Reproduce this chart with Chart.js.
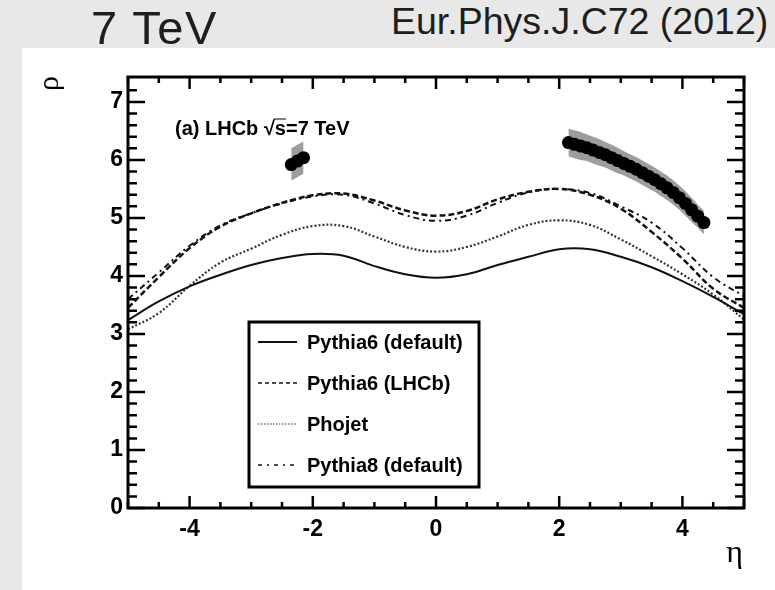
<!DOCTYPE html>
<html>
<head>
<meta charset="utf-8">
<script src="https://cdn.jsdelivr.net/npm/chart.js@4"></script>
<style>
  body { margin: 0; background: #e8e8e8; width: 775px; height: 590px; overflow: hidden; position: relative;
         font-family: 'Liberation Sans', Arial, sans-serif; }
  .head { position: absolute; color: #1e1e1e; line-height: 1; white-space: nowrap; z-index: 2; }
  #energy { left: 91px; top: 4px; font-size: 47px; letter-spacing: 1.5px; }
  #ref { left: 391px; top: 3px; font-size: 37.5px; }
  #panel { position: absolute; left: 22px; top: 48px; width: 753px; height: 542px; background: #fff; }
</style>
</head>
<body>
<div class="head" id="energy">7 TeV</div>
<div class="head" id="ref">Eur.Phys.J.C72 (2012)</div>
<div id="panel"><canvas id="rhoChart" width="753" height="542"></canvas></div>
<script>
// eta grid for the generator predictions
const etaGrid = [-5, -4.5, -4, -3.5, -3, -2.5, -2, -1.5, -1, -0.5, 0, 0.5, 1, 1.5, 2, 2.5, 3, 3.5, 4, 4.5, 5];

const pythia6Default = [3.24, 3.56, 3.82, 4.02, 4.19, 4.31, 4.38, 4.35, 4.17, 4.03, 3.97, 4.03, 4.19, 4.33, 4.46, 4.46, 4.33, 4.15, 3.91, 3.64, 3.34];
const pythia6LHCb   = [3.45, 3.98, 4.48, 4.85, 5.08, 5.26, 5.39, 5.42, 5.30, 5.13, 5.04, 5.12, 5.32, 5.45, 5.50, 5.40, 5.16, 4.76, 4.30, 3.78, 3.45];
const phojet        = [3.08, 3.36, 3.83, 4.23, 4.47, 4.71, 4.86, 4.86, 4.68, 4.50, 4.42, 4.50, 4.68, 4.88, 4.96, 4.88, 4.63, 4.34, 4.03, 3.68, 3.25];
const pythia8Default = [3.60, 4.06, 4.52, 4.87, 5.08, 5.25, 5.37, 5.40, 5.25, 5.05, 4.95, 5.04, 5.26, 5.44, 5.50, 5.43, 5.20, 4.92, 4.48, 3.98, 3.65];

// LHCb measurement, backward and forward acceptance
const etaBackward = [-2.35, -2.25, -2.15];
const rhoBackward = [5.92, 5.98, 6.04];
const errBackward = [0.28, 0.28, 0.28];

const etaForward = [2.15, 2.25, 2.35, 2.45, 2.55, 2.65, 2.75, 2.85, 2.95, 3.05, 3.15, 3.25,
                    3.35, 3.45, 3.55, 3.65, 3.75, 3.85, 3.95, 4.05, 4.15, 4.25, 4.35];
const rhoForward = [6.30, 6.27, 6.24, 6.21, 6.17, 6.13, 6.09, 6.04, 5.99, 5.94, 5.89, 5.84,
                    5.78, 5.72, 5.66, 5.59, 5.52, 5.44, 5.35, 5.25, 5.14, 5.03, 4.92];
const errForward = [0.24, 0.24, 0.24, 0.23, 0.23, 0.23, 0.22, 0.22, 0.22, 0.21, 0.21, 0.21,
                    0.21, 0.21, 0.21, 0.21, 0.21, 0.21, 0.21, 0.21, 0.21, 0.20, 0.20];

const xTicks = [-4, -2, 0, 2, 4];
const yTicks = [0, 1, 2, 3, 4, 5, 6, 7];

const FONT = "'Liberation Sans', Arial, sans-serif";
const SERIF = "'Liberation Serif', 'DejaVu Serif', serif";

const pts = (xs, ys) => xs.map((x, i) => ({ x: x, y: ys[i] }));
const shifted = (xs, ys, es, sign) => xs.map((x, i) => ({ x: x, y: ys[i] + sign * es[i] }));

function curve(label, values, dash, width, color) {
    return {
        label: label,
        data: pts(etaGrid, values),
        borderColor: color,
        borderWidth: width,
        borderDash: dash,
        pointRadius: 0,
        fill: false,
        tension: 0.4,
        order: 1,
        isModel: true
    };
}

function band(xs, ys, es, sign) {
    return {
        data: shifted(xs, ys, es, sign),
        borderWidth: 0,
        pointRadius: 0,
        backgroundColor: '#9d9d9d',
        fill: sign < 0 ? '-1' : false,
        order: 2
    };
}

// frame with inward ticks on all four sides, ROOT style
const frame = {
    id: 'frame',
    afterDatasetsDraw(chart) {
        const { ctx, chartArea: a, scales: { x, y } } = chart;
        ctx.save();
        ctx.strokeStyle = '#000';
        ctx.lineWidth = 2.5;
        ctx.beginPath();
        for (let v = -5; v <= 5.001; v += 0.5) {
            const px = x.getPixelForValue(v);
            const len = Math.abs(v % 2) < 1e-6 ? 12 : 6;
            ctx.moveTo(px, a.bottom); ctx.lineTo(px, a.bottom - len);
            ctx.moveTo(px, a.top); ctx.lineTo(px, a.top + len);
        }
        for (let v = 0; v <= 7.4; v += 0.2) {
            const py = y.getPixelForValue(v);
            const len = Math.abs(v - Math.round(v)) < 1e-6 ? 17 : 9;
            ctx.moveTo(a.left, py); ctx.lineTo(a.left + len, py);
            ctx.moveTo(a.right, py); ctx.lineTo(a.right - len, py);
        }
        ctx.stroke();
        ctx.lineWidth = 3;
        ctx.strokeRect(a.left, a.top, a.right - a.left, a.bottom - a.top);

        // experiment label
        ctx.fillStyle = '#000';
        ctx.font = 'bold 20px ' + FONT;
        ctx.textBaseline = 'alphabetic';
        const tx = a.left + 47, ty = a.top + 58;
        const pre = '(a) LHCb \u221A';
        ctx.fillText(pre + 's=7 TeV', tx, ty);
        const sx = tx + ctx.measureText(pre).width;
        const sw = ctx.measureText('s').width;
        ctx.lineWidth = 1;
        ctx.beginPath();
        ctx.moveTo(sx - 1, ty - 16); ctx.lineTo(sx + sw, ty - 16);
        ctx.stroke();

        // axis symbols
        ctx.font = '30px ' + SERIF;
        ctx.save();
        ctx.translate(36, a.top + 14);
        ctx.rotate(-Math.PI / 2);
        ctx.textAlign = 'left';
        ctx.fillText('\u03C1', 0, 0);
        ctx.restore();
        ctx.font = '32px ' + SERIF;
        ctx.textAlign = 'right';
        ctx.fillText('\u03B7', a.right - 1, a.bottom + 54);
        ctx.restore();
    }
};

// boxed legend inside the plot area
const boxLegend = {
    id: 'boxLegend',
    afterDraw(chart) {
        const { ctx, chartArea: a } = chart;
        const left = a.left + 121, top = a.top + 245, w = 230, h = 165;
        ctx.save();
        ctx.fillStyle = '#fff';
        ctx.fillRect(left, top, w, h);
        ctx.strokeStyle = '#000';
        ctx.lineWidth = 3;
        ctx.strokeRect(left, top, w, h);
        const rows = [265, 306, 347, 388];
        const samples = [[], [4, 3], [1.5, 1.5], [4, 5, 2, 5]];
        const models = chart.data.datasets.filter(d => d.isModel);
        models.forEach((d, i) => {
            const yy = a.top + rows[i];
            ctx.beginPath();
            ctx.setLineDash(samples[i]);
            ctx.lineWidth = i === 0 ? 2 : 1.5;
            ctx.strokeStyle = i === 2 ? '#777' : '#111';
            ctx.moveTo(a.left + 130, yy);
            ctx.lineTo(a.left + 169, yy);
            ctx.stroke();
            ctx.setLineDash([]);
            ctx.fillStyle = '#000';
            ctx.font = 'bold 20px ' + FONT;
            ctx.textBaseline = 'middle';
            ctx.fillText(d.label, a.left + 179, yy + 1);
        });
        ctx.restore();
    }
};

const ctx = document.getElementById('rhoChart');

const data = {
    datasets: [
        {
            label: 'LHCb',
            data: pts(etaBackward, rhoBackward).concat(pts(etaForward, rhoForward)),
            showLine: false,
            pointRadius: 6.5,
            pointBackgroundColor: '#000',
            pointBorderWidth: 0,
            order: 0
        },
        curve('Pythia6 (default)', pythia6Default, [], 2, '#111'),
        curve('Pythia6 (LHCb)', pythia6LHCb, [6, 3], 2.5, '#111'),
        curve('Phojet', phojet, [2, 2], 2.2, '#333'),
        curve('Pythia8 (default)', pythia8Default, [6, 4, 2, 4], 2, '#111'),
        band(etaBackward, rhoBackward, errBackward, 1),
        band(etaBackward, rhoBackward, errBackward, -1),
        band(etaForward, rhoForward, errForward, 1),
        band(etaForward, rhoForward, errForward, -1)
    ]
};

const tickFont = { family: FONT, size: 23, weight: 'bold' };

new Chart(ctx, {
    type: 'line',
    data: data,
    options: {
        responsive: false,
        animation: false,
        layout: { padding: { top: 29, right: 31, left: 0, bottom: 0 } },
        plugins: {
            legend: { display: false },
            tooltip: { enabled: false }
        },
        scales: {
            x: {
                type: 'linear',
                min: -5,
                max: 5,
                grid: { display: false, drawTicks: false },
                border: { display: false },
                ticks: { padding: 8, color: '#000', font: tickFont, maxRotation: 0, callback: v => String(v) },
                afterBuildTicks: s => { s.ticks = xTicks.map(v => ({ value: v })); },
                afterFit: s => { s.height = 82; }
            },
            y: {
                type: 'linear',
                min: 0,
                max: 7.43,
                grid: { display: false, drawTicks: false },
                border: { display: false },
                ticks: { padding: 5, color: '#000', font: tickFont, callback: v => String(v) },
                afterBuildTicks: s => { s.ticks = yTicks.map(v => ({ value: v })); },
                afterFit: s => { s.width = 106; }
            }
        }
    },
    plugins: [frame, boxLegend]
});
</script>
</body>
</html>
